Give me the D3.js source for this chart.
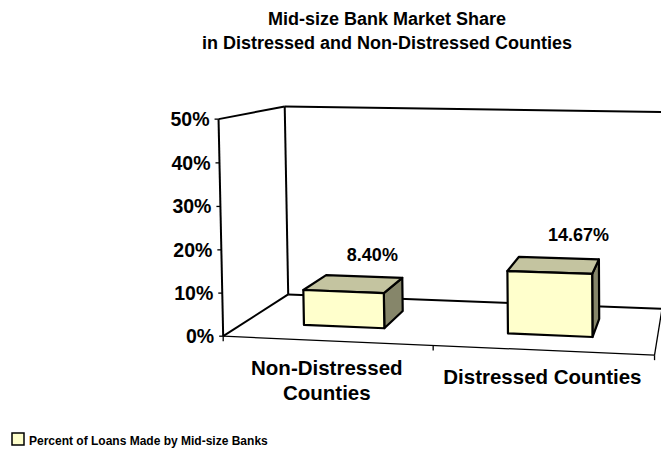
<!DOCTYPE html>
<html>
<head>
<meta charset="utf-8">
<script src="https://cdn.jsdelivr.net/npm/d3@7"></script>
<style>
  body { margin: 0; background: #fff; }
  svg text { font-family: Arial, "Liberation Sans", sans-serif; font-weight: bold; fill: #000; }
</style>
</head>
<body>
<div class="chart"></div>
<script>
// chart data
var categories = ["Non-Distressed Counties", "Distressed Counties"];
var values = [8.40, 14.67];
var valueLabels = ["8.40%", "14.67%"];
var yTicks = [0, 10, 20, 30, 40, 50];
var seriesName = "Percent of Loans Made by Mid-size Banks";
var titleLines = ["Mid-size Bank Market Share", "in Distressed and Non-Distressed Counties"];

var svgWidth = 661;
var svgHeight = 449;

var svg = d3.select(".chart")
  .append("svg")
  .attr("width", svgWidth)
  .attr("height", svgHeight);

// unit box: x across, y up, z into the page
var x = d3.scaleBand().domain(categories).range([0, 1]).paddingInner(0.6).paddingOuter(0.3);
var y = d3.scaleLinear().domain([0, 50]).range([0, 1]);
var zFront = 0.3, zBack = 0.7;

// where the corners of the box land on screen (Excel-like perspective)
var frameRef = [
  [[0, 0, 0], [223, 335.5]],
  [[0, 1, 0], [218.3, 120]],
  [[0, 0, 1], [288.3, 295]],
  [[0, 1, 1], [285, 105.7]],
  [[1, 0, 0], [655, 355]],
  [[1, 0, 1], [661.7, 309]],
  [[1, 1, 1], [661.5, 112]]
];

// fit a 3x4 projection matrix (last entry = 1) by least squares
function fitProjection(refs) {
  var n = 11;
  var M = d3.range(n).map(function() { return new Array(n + 1).fill(0); });
  function addRow(row, b) {
    for (var i = 0; i < n; i++) {
      for (var j = 0; j < n; j++) M[i][j] += row[i] * row[j];
      M[i][n] += row[i] * b;
    }
  }
  refs.forEach(function(r) {
    var X = r[0][0], Y = r[0][1], Z = r[0][2], u = r[1][0], v = r[1][1];
    addRow([X, Y, Z, 1, 0, 0, 0, 0, -u * X, -u * Y, -u * Z], u);
    addRow([0, 0, 0, 0, X, Y, Z, 1, -v * X, -v * Y, -v * Z], v);
  });
  for (var c = 0; c < n; c++) {
    var p = c;
    for (var r = c + 1; r < n; r++) if (Math.abs(M[r][c]) > Math.abs(M[p][c])) p = r;
    var tmp = M[c]; M[c] = M[p]; M[p] = tmp;
    for (var r2 = 0; r2 < n; r2++) {
      if (r2 === c) continue;
      var f = M[r2][c] / M[c][c];
      for (var k = c; k <= n; k++) M[r2][k] -= f * M[c][k];
    }
  }
  return M.map(function(row, i) { return row[n] / row[i]; });
}

var P = fitProjection(frameRef);

function project(X, Y, Z) {
  var w = P[8] * X + P[9] * Y + P[10] * Z + 1;
  return [(P[0] * X + P[1] * Y + P[2] * Z + P[3]) / w,
          (P[4] * X + P[5] * Y + P[6] * Z + P[7]) / w];
}

function line3(a, b) {
  return d3.line()([project.apply(null, a), project.apply(null, b)]);
}

// walls and floor
var frame = svg.append("g").attr("fill", "none").attr("stroke", "#000");

frame.append("path")
  .attr("d", d3.line()([[0,0,0],[1,0,0],[1,0,1],[0,0,1]].map(function(p) { return project.apply(null, p); })) + "Z")
  .attr("fill", "#fff").attr("stroke", "none");

[[[0,1,0],[0,1,1]], [[0,1,1],[1,1,1]], [[0,0,1],[1,0,1]], [[0,0,0],[0,0,1]], [[0,0,1],[0,1,1]], [[0,0,0],[0,1,0]]]
  .forEach(function(s) {
    frame.append("path").attr("d", line3(s[0], s[1])).attr("stroke-width", 2);
  });

[[[0,0,0],[1,0,0]], [[1,0,0],[1,0,1]]].forEach(function(s) {
  frame.append("path").attr("d", line3(s[0], s[1])).attr("stroke-width", 1.3);
});

// value axis ticks and labels
yTicks.forEach(function(t) {
  var p = project(0, y(t), 0);
  frame.append("line")
    .attr("x1", p[0] - 4).attr("x2", p[0])
    .attr("y1", p[1]).attr("y2", p[1])
    .attr("stroke-width", 1.3);
  svg.append("text")
    .attr("x", p[0] - 9)
    .attr("y", p[1])
    .attr("dy", "0.36em")
    .attr("text-anchor", "end")
    .style("font-size", "19.5px")
    .text(t + "%");
});

// category ticks
[0, 0.5, 1].forEach(function(t) {
  var p = project(t, 0, 0);
  frame.append("line")
    .attr("x1", p[0]).attr("x2", p[0])
    .attr("y1", p[1]).attr("y2", p[1] + 5)
    .attr("stroke-width", 1.3);
});

// bars
var bars = svg.selectAll(".bar")
  .data(categories.map(function(c, i) { return { cat: c, value: values[i], label: valueLabels[i] }; }))
  .enter()
  .append("g")
  .attr("class", "bar");

function face(pts) {
  return d3.line()(pts.map(function(p) { return project.apply(null, p); })) + "Z";
}

bars.each(function(d) {
  var g = d3.select(this);
  var x0 = x(d.cat), x1 = x0 + x.bandwidth(), h = y(d.value);
  g.append("path")
    .attr("d", face([[x1,0,zFront],[x1,0,zBack],[x1,h,zBack],[x1,h,zFront]]))
    .attr("fill", "#86866a");
  g.append("path")
    .attr("d", face([[x0,h,zFront],[x1,h,zFront],[x1,h,zBack],[x0,h,zBack]]))
    .attr("fill", "#c4c4a0");
  g.append("path")
    .attr("d", face([[x0,0,zFront],[x1,0,zFront],[x1,h,zFront],[x0,h,zFront]]))
    .attr("fill", "#ffffcc");
  g.selectAll("path")
    .attr("stroke", "#000")
    .attr("stroke-width", 2.2)
    .attr("stroke-linejoin", "round");

  var top = project(x0 + x.bandwidth() / 2, h, zFront);
  g.append("text")
    .attr("x", top[0] + 29)
    .attr("y", top[1] - 31)
    .attr("text-anchor", "middle")
    .style("font-size", "18px")
    .text(d.label);
});

// category labels, wrapped like Excel does
var maxLabelWidth = 215;
categories.forEach(function(c) {
  var base = project(x(c) + x.bandwidth() / 2, 0, 0);
  var t = svg.append("text")
    .attr("text-anchor", "middle")
    .style("font-size", "20.5px");
  var words = c.split(" "), lines = [], cur = [];
  words.forEach(function(w) {
    cur.push(w);
    t.text(cur.join(" "));
    if (t.node().getComputedTextLength() > maxLabelWidth && cur.length > 1) {
      cur.pop();
      lines.push(cur.join(" "));
      cur = [w];
    }
  });
  lines.push(cur.join(" "));
  t.text(null);
  lines.forEach(function(l, i) {
    t.append("tspan")
      .attr("x", base[0])
      .attr("y", base[1] + 34 + i * 25)
      .text(l);
  });
});

// title
svg.append("text")
  .attr("text-anchor", "middle")
  .style("font-size", "18px")
  .selectAll("tspan")
  .data(titleLines)
  .enter()
  .append("tspan")
  .attr("x", 387)
  .attr("y", function(d, i) { return 25 + i * 24; })
  .text(function(d) { return d; });

// legend
var legend = svg.append("g").attr("transform", "translate(12, 433)");
legend.append("rect")
  .attr("width", 12).attr("height", 12)
  .attr("fill", "#ffffcc")
  .attr("stroke", "#000")
  .attr("stroke-width", 1.5);
legend.append("text")
  .attr("x", 17)
  .attr("y", 11.5)
  .style("font-size", "12px")
  .text(seriesName);
</script>
</body>
</html>
